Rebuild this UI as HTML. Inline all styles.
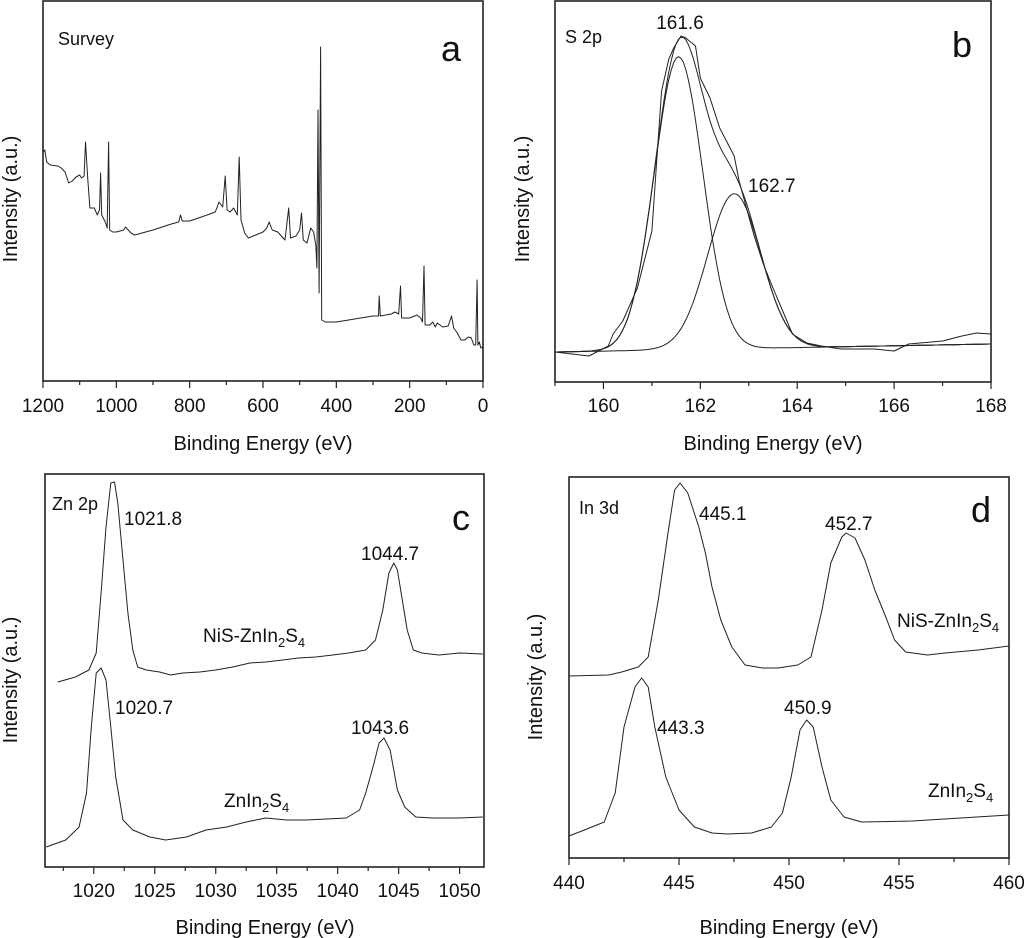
<!DOCTYPE html>
<html><head><meta charset="utf-8">
<style>
html,body{margin:0;padding:0;background:#fff;}
svg{display:block;font-family:"Liberation Sans",Arial,sans-serif;}
</style></head>
<body>
<svg id="fig" width="1024" height="938" viewBox="0 0 1024 938" xmlns="http://www.w3.org/2000/svg">
<g id="texts" fill="#111" font-size="19">
  <!-- panel a -->
  <text x="58" y="45" font-size="18">Survey</text>
  <text x="441" y="61" font-size="36">a</text>
  <text transform="translate(17,199) rotate(-90)" text-anchor="middle" font-size="20">Intensity (a.u.)</text>
  <text x="263" y="450" text-anchor="middle" font-size="20">Binding Energy (eV)</text>
  <!-- panel b -->
  <text x="565" y="43" font-size="18">S 2p</text>
  <text x="952" y="57" font-size="36">b</text>
  <text x="680" y="29" text-anchor="middle">161.6</text>
  <text x="748" y="192">162.7</text>
  <text transform="translate(529,199) rotate(-90)" text-anchor="middle" font-size="20">Intensity (a.u.)</text>
  <text x="773" y="450" text-anchor="middle" font-size="20">Binding Energy (eV)</text>
  <!-- panel c -->
  <text x="52" y="510" font-size="18">Zn 2p</text>
  <text x="452" y="530" font-size="36">c</text>
  <text x="124" y="525">1021.8</text>
  <text x="361" y="560">1044.7</text>
  <text x="203" y="642">NiS-ZnIn<tspan font-size="13" dy="5">2</tspan><tspan dy="-5">S</tspan><tspan font-size="13" dy="5">4</tspan></text>
  <text x="115" y="714">1020.7</text>
  <text x="351" y="734">1043.6</text>
  <text x="224" y="807">ZnIn<tspan font-size="13" dy="5">2</tspan><tspan dy="-5">S</tspan><tspan font-size="13" dy="5">4</tspan></text>
  <text transform="translate(17,680) rotate(-90)" text-anchor="middle" font-size="20">Intensity (a.u.)</text>
  <text x="265" y="934" text-anchor="middle" font-size="20">Binding Energy (eV)</text>
  <!-- panel d -->
  <text x="579" y="514" font-size="18">In 3d</text>
  <text x="971" y="522" font-size="36">d</text>
  <text x="699" y="520">445.1</text>
  <text x="825" y="530">452.7</text>
  <text x="897" y="627">NiS-ZnIn<tspan font-size="13" dy="5">2</tspan><tspan dy="-5">S</tspan><tspan font-size="13" dy="5">4</tspan></text>
  <text x="657" y="734">443.3</text>
  <text x="784" y="714">450.9</text>
  <text x="928" y="797">ZnIn<tspan font-size="13" dy="5">2</tspan><tspan dy="-5">S</tspan><tspan font-size="13" dy="5">4</tspan></text>
  <text transform="translate(542,677) rotate(-90)" text-anchor="middle" font-size="20">Intensity (a.u.)</text>
  <text x="789" y="934" text-anchor="middle" font-size="20">Binding Energy (eV)</text>
</g>
</svg>
<script>
// ---- data (x in eV, y = relative intensity, 0 = axis bottom) ----
const surveyE = [1200,1195,1190,1180,1160,1150,1140,1130,1120,1110,1100,1095,1088,1084,1078,1072,1060,1052,1046,1043,1040,1030,1025,1021,1018,1010,1000,980,975,960,950,900,850,830,825,820,800,760,730,720,710,703,698,690,680,670,665,660,650,640,620,600,590,583,575,560,550,540,530,525,510,500,495,490,480,470,462,456,453,450,447,443,440,430,400,350,300,285,283,280,250,240,230,225,222,200,180,170,165,161,158,145,137,130,125,110,95,86,80,70,60,50,40,32,25,20,16,14,10,6,2,0];
const surveyI = [229,231,219,216,215,213,209,198,200,204,206,203,205,239,203,173,173,166,171,208,166,159,153,239,151,149,149,151,154,148,146,151,157,159,166,160,160,165,169,179,174,205,171,169,173,166,224,161,148,143,146,149,153,159,151,149,145,141,173,143,145,151,168,141,138,153,149,136,113,271,88,334,61,59,59,62,65,65,85,65,67,69,67,95,63,63,66,63,59,115,56,56,59,54,58,54,55,65,53,48,41,41,44,43,36,36,101,36,39,33,34,32];

const s2pE = [159.0,159.7,160.1,160.2,160.4,160.7,161.0,161.1,161.2,161.35,161.45,161.6,161.7,161.9,162.0,162.2,162.4,162.7,162.8,163.1,163.3,163.5,163.7,163.9,164.2,164.5,164.9,165.6,166.0,166.3,167.0,167.4,167.7,168.0];
const s2pI = [30,26,36,48,61,94,151,221,291,323,334,346,344,336,304,284,254,226,201,148,118,94,71,48,39,36,33,33,31,38,41,46,49,48];
const fitCenters = [161.55, 162.7];
const fitHeights = [293, 155];
const fitWidths  = [0.50, 0.55];
const fitBaseline = [30, 38]; // at 159 and 168 eV

const znE1 = [1017.05,1018.5,1019.6,1020.2,1020.6,1021.0,1021.4,1021.7,1021.97,1022.4,1022.8,1023.2,1023.6,1024.3,1025.4,1026.3,1027.3,1028.7,1030.0,1031.4,1032.8,1034.1,1035.5,1036.8,1038.2,1039.6,1040.9,1042.3,1043.1,1043.7,1044.2,1044.6,1044.9,1045.3,1045.7,1046.2,1046.9,1048.3,1050.0,1051.9];
const znI1 = [185,190,197,214,274,340,384,385,364,307,254,217,200,197,195,192,194,195,197,200,204,205,207,209,210,212,214,217,227,257,294,304,297,267,237,217,214,212,214,213];
const znE2 = [1016.1,1017.7,1018.8,1019.4,1019.8,1020.2,1020.6,1021.0,1021.4,1021.8,1022.4,1023.2,1024.6,1025.9,1027.6,1029.2,1030.9,1032.5,1034.1,1035.8,1037.4,1039.1,1040.7,1041.8,1042.3,1042.9,1043.4,1043.8,1044.3,1044.9,1045.5,1046.4,1047.8,1050.0,1051.9];
const znI2 = [20,27,40,74,140,194,199,187,140,90,47,37,30,27,30,37,40,45,49,47,47,48,49,57,74,100,124,129,117,77,60,50,49,49,50];

const inE1 = [440,441.8,442.4,443.15,443.6,444.06,444.5,444.8,445.05,445.4,445.9,446.2,446.5,446.9,447.4,448.0,448.8,449.5,450.4,451.0,451.5,451.9,452.4,452.6,453.0,453.45,453.9,454.4,454.8,455.3,456.3,457.1,458.6,460];
const inI1 = [182,183,186,191,201,258,325,368,375,365,331,305,271,238,211,193,190,190,193,201,248,295,321,325,320,298,268,241,218,206,203,205,208,212];
const inE2 = [440,440.7,441.6,442.1,442.5,443.0,443.3,443.6,443.9,444.4,445.0,445.7,446.5,447.2,448.3,449.2,449.7,450.1,450.5,450.8,451.1,451.5,451.9,452.5,453.3,455.6,457.8,460];
const inI2 = [22,28,36,65,131,171,180,171,131,81,48,31,25,24,25,31,45,81,128,138,131,91,58,41,36,37,40,43];

const ticksA = [1200,1000,800,600,400,200,0];
const ticksB = [160,162,164,166,168];
const ticksC = [1020,1025,1030,1035,1040,1045,1050];
const ticksD = [440,445,450,455,460];

const NS = 'http://www.w3.org/2000/svg';
const svg = document.getElementById('fig');

function mk(tag){ return document.createElementNS(NS, tag); }

function panel(name, L, R, T, B, x0, x1, yMax, majors, minorStep, labelY){
  const sx = v => L + (v - x0) / (x1 - x0) * (R - L);
  const sy = v => B - v / yMax * (B - T);
  const g = mk('g');
  
  
  svg.appendChild(g);
  const frame = mk('rect');
  
  
  frame.setAttribute('x', L); frame.setAttribute('y', T);
  frame.setAttribute('width', R - L); frame.setAttribute('height', B - T);
  frame.setAttribute('fill', 'none'); frame.setAttribute('stroke', '#222'); frame.setAttribute('stroke-width', '1.6');
  g.appendChild(frame);
  const lo = Math.min(x0, x1), hi = Math.max(x0, x1);
  for (let v = Math.ceil(lo / minorStep) * minorStep; v <= hi + 1e-9; v += minorStep) {
    const isMajor = majors.some(m => Math.abs(m - v) < 1e-6);
    const t = mk('line');
    
    
    t.setAttribute('x1', sx(v)); t.setAttribute('x2', sx(v));
    t.setAttribute('y1', B); t.setAttribute('y2', B + (isMajor ? 7 : 4));
    t.setAttribute('stroke', '#222'); t.setAttribute('stroke-width', '1.2');
    g.appendChild(t);
  }
  majors.forEach(m => {
    const tx = mk('text');
    
    
    tx.setAttribute('x', sx(m)); tx.setAttribute('y', labelY);
    tx.setAttribute('text-anchor', 'middle'); tx.setAttribute('font-size', '19'); tx.setAttribute('fill', '#111');
    tx.textContent = String(m);
    g.appendChild(tx);
  });
  return {g, sx, sy};
}

function line(p, name, xs, ys){
  const path = mk('path');
  
  
  let d = '';
  xs.forEach((x, i) => { d += (i ? 'L' : 'M') + p.sx(x).toFixed(1) + ' ' + p.sy(ys[i]).toFixed(1); });
  path.setAttribute('d', d);
  path.setAttribute('fill', 'none'); path.setAttribute('stroke', '#222'); path.setAttribute('stroke-width', '1');
  path.setAttribute('stroke-linejoin', 'round');
  p.g.appendChild(path);
}

// panel a
const pa = panel('panel-a-survey', 43, 483, 1, 381, 1200, 0, 380, ticksA, 100, 412);
line(pa, 'survey-spectrum', surveyE, surveyI);

// panel b
const pb = panel('panel-b-s2p', 555, 991, 1, 382, 159, 168, 381, ticksB, 1, 412);
line(pb, 's2p-spectrum', s2pE, s2pI);
const fitX = [];
for (let i = 0; i <= 180; i++) fitX.push(159 + i * 0.05);
const base = x => fitBaseline[0] + (fitBaseline[1] - fitBaseline[0]) * (x - 159) / 9;
const comp = (k, x) => fitHeights[k] * Math.exp(-0.5 * Math.pow((x - fitCenters[k]) / fitWidths[k], 2));
line(pb, 's2p-fit-161-6', fitX, fitX.map(x => base(x) + comp(0, x)));
line(pb, 's2p-fit-162-7', fitX, fitX.map(x => base(x) + comp(1, x)));
line(pb, 's2p-fit-envelope', fitX, fitX.map(x => base(x) + comp(0, x) + comp(1, x)));

// panel c
const pc = panel('panel-c-zn2p', 45, 484, 474, 867, 1016, 1052, 393, ticksC, 2.5, 897);
line(pc, 'zn2p-nis-znin2s4', znE1, znI1);
line(pc, 'zn2p-znin2s4', znE2, znI2);

// panel d
const pd = panel('panel-d-in3d', 569, 1009, 477, 858, 440, 460, 381, ticksD, 2.5, 889);
line(pd, 'in3d-nis-znin2s4', inE1, inI1);
line(pd, 'in3d-znin2s4', inE2, inI2);
</script>
</body></html>
